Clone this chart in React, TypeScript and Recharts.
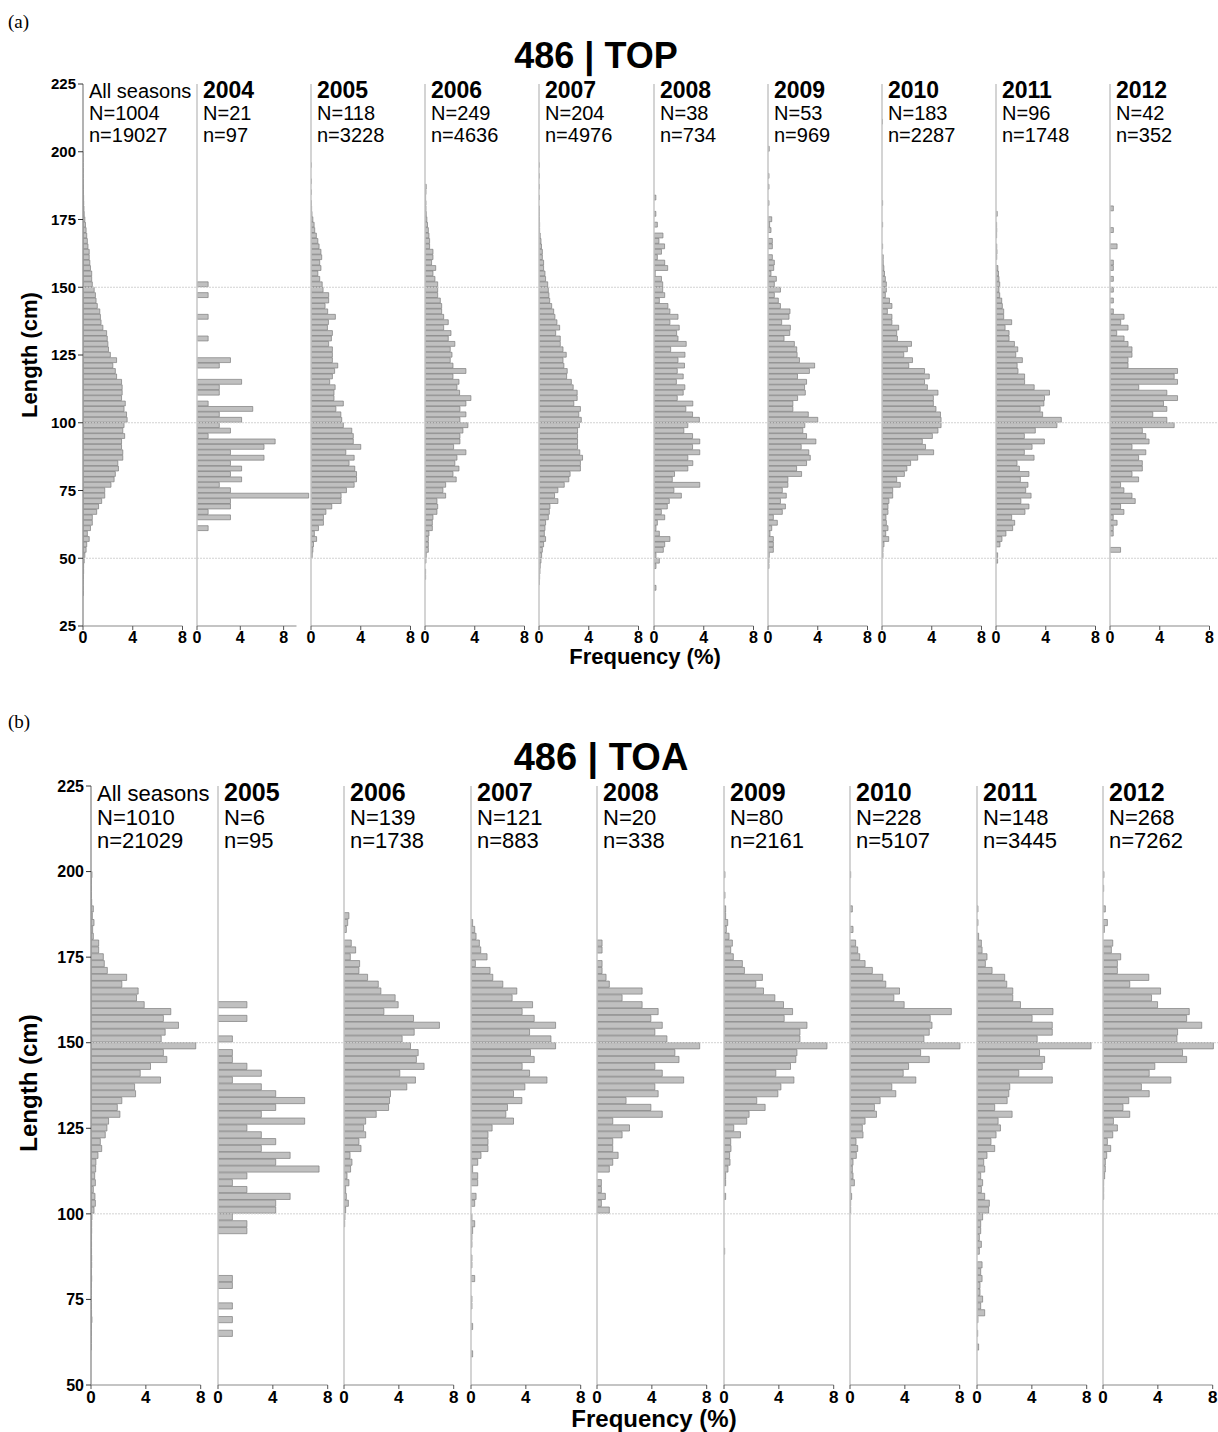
import React from "react";
import { BarChart, Bar, XAxis, YAxis, ReferenceLine } from "recharts";

// ---------- panel (a): 486 | TOP ----------
const A_LABELS = ["All seasons", "2004", "2005", "2006", "2007", "2008", "2009", "2010", "2011", "2012"];
const A_BIG_N = [1004, 21, 118, 249, 204, 38, 53, 183, 96, 42];
const A_SMALL_N = [19027, 97, 3228, 4636, 4976, 734, 969, 2287, 1748, 352];
// upper edge (cm) of the first 2-cm bin in each frequency list below
const A_TOPS = [200, 152, 196, 188, 196, 184, 202, 212, 178, 180];
// value reached by the drawn x-axis line (2004 is on a wider scale)
const A_AXIS_END = [8, 9.19, 8, 8, 8, 8, 8, 8, 8, 8];

const aAll = [0.01, 0.01, 0.01, 0.02, 0.02, 0.02, 0.03, 0.04, 0.05, 0.06, 0.08, 0.1, 0.15,
  0.2, 0.25, 0.3, 0.35, 0.4, 0.5, 0.5, 0.55, 0.6, 0.7, 0.7, 0.75,
  0.9, 1.0, 1.05, 1.15, 1.35, 1.4, 1.45, 1.6, 1.9, 1.95, 2.0, 2.05, 2.2,
  2.7, 2.4, 2.6, 2.7, 3.1, 3.15, 3.15, 3.1, 3.4, 3.3, 3.5, 3.55,
  3.3, 3.2, 3.35, 3.1, 3.1, 3.2, 3.2, 2.8, 2.85, 2.6, 2.5, 2.25,
  1.75, 1.75, 1.5, 1.25, 1.1, 0.75, 0.75, 0.6, 0.35, 0.5, 0.3, 0.25,
  0.15, 0.1, 0.05, 0.05, 0.03, 0.02, 0.02, 0.02];
const a2004 = [1.03, 0, 1.03, 0, 0, 0, 1.03, 0, 0, 0, 1.03, 0, 0, 0,
  3.09, 2.06, 0, 0, 4.12, 2.06, 2.06, 0, 1.03, 5.15, 2.06, 4.12,
  2.06, 3.09, 1.03, 7.22, 6.19, 3.09, 6.19, 3.09, 4.12, 3.09, 4.12, 2.06,
  3.09, 10.31, 3.09, 3.09, 1.03, 3.09, 0, 1.03];
const a2005 = [0.02, 0, 0, 0.03, 0, 0.03, 0, 0.03, 0.05, 0.08, 0.15, 0.25,
  0.3, 0.43, 0.55, 0.65, 0.8, 0.86, 0.7, 0.8, 0.55, 0.7, 0.9,
  0.97, 1.42, 1.42, 1.13, 1.34, 1.96, 1.4, 1.32, 1.72, 1.64, 1.42, 1.72, 1.72,
  1.72, 2.15, 1.9, 1.72, 1.5, 1.94, 1.85, 1.85, 2.6, 2.0, 2.4, 2.47,
  2.6, 3.28, 3.4, 3.4, 4.0, 2.8, 3.47, 3.06, 3.52, 3.66, 3.66, 3.47,
  2.85, 2.42, 2.42, 1.67, 1.2, 1.0, 1.0, 0.6, 0.27, 0.45, 0.2, 0.15,
  0.1];
const a2006 = [0.1, 0.08, 0.05, 0.08, 0.08, 0.1, 0.15,
  0.2, 0.27, 0.32, 0.37, 0.37, 0.64, 0.64, 0.53, 0.86, 0.64, 0.8, 1.02,
  1.02, 1.02, 1.23, 1.34, 1.34, 1.5, 1.87, 1.5, 2.09, 1.87, 2.4, 2.03, 2.17,
  2.03, 2.25, 3.29, 2.25, 2.73, 2.57, 2.78, 3.69, 3.29, 2.81, 3.29, 2.81,
  3.45, 3.05, 2.81, 2.81, 2.3, 3.29, 2.57, 2.4, 2.73, 2.25, 2.51, 1.66,
  1.44, 1.66, 0.96, 1.02, 0.96, 0.64, 0.59, 0.59, 0.32, 0.27, 0.27, 0.27,
  0.1, 0.08, 0, 0.05, 0.05];
const a2007 = [0.02, 0, 0.02, 0, 0.02, 0, 0.02, 0, 0.03, 0.03, 0.04, 0.05,
  0.05, 0.1, 0.16, 0.2, 0.27, 0.27, 0.37, 0.37, 0.48, 0.53, 0.7,
  0.75, 0.8, 0.86, 1.02, 1.18, 1.28, 1.44, 1.66, 1.34, 1.71, 1.71, 1.93, 2.19,
  1.93, 2.0, 2.27, 2.22, 2.6, 2.75, 3.07, 3.07, 2.8, 3.33, 3.2, 3.4,
  3.25, 3.1, 3.1, 3.1, 3.1, 3.28, 3.5, 3.33, 3.33, 2.5, 2.4, 2.03,
  1.52, 1.25, 1.52, 0.88, 0.83, 0.75, 0.53, 0.48, 0.43, 0.53, 0.37, 0.27,
  0.21, 0.16, 0.1, 0.08, 0.05, 0.03];
const a2008 = [0.15, 0, 0, 0.15, 0, 0.27,
  0, 0.72, 0.4, 0.85, 0.6, 0.27, 0.86, 1.1, 0.1, 0.6, 0.7,
  0.7, 0.86, 0.43, 1.12, 1.28, 1.93, 1.28, 2.03, 1.82, 1.93, 2.59, 1.34, 2.49,
  1.93, 2.45, 1.87, 2.35, 1.8, 2.48, 2.35, 1.87, 3.12, 2.56, 3.1, 3.65,
  2.72, 2.4, 3.1, 3.68, 3.1, 3.68, 2.72, 3.12, 2.72, 1.65, 1.47, 3.68,
  1.6, 2.2, 1.23, 1.07, 0.59, 0.86, 0.27, 0.16, 0.43, 1.28, 0.86, 0.75,
  0.16, 0.43, 0.16, 0, 0, 0, 0.16];
const a2009 = [0.1, 0, 0, 0, 0, 0.08, 0, 0.08, 0, 0, 0.08, 0, 0, 0.3,
  0.13, 0.24, 0, 0.35, 0.35, 0, 0.35, 0.51, 0.46, 0.24, 0.67, 0.51,
  1.0, 0.51, 0.83, 1.0, 1.77, 1.69, 1.1, 1.8, 1.75, 1.29, 2.12, 2.31, 2.34,
  2.53, 3.75, 3.33, 2.37, 3.1, 2.94, 3.0, 2.38, 2.0, 2.0, 3.24, 4.0,
  2.96, 2.8, 3.1, 3.85, 2.67, 3.28, 3.4, 3.1, 2.3, 2.7, 1.6, 1.6,
  1.15, 1.47, 1.0, 1.4, 1.15, 0.43, 0.75, 0.3, 0.16, 0.43, 0.43, 0.43,
  0.1, 0.08, 0.08];
const a2010 = [0.04, 0, 0, 0, 0, 0, 0, 0, 0, 0, 0, 0, 0, 0, 0, 0.05, 0, 0, 0,
  0.05, 0, 0, 0, 0.05, 0, 0.1, 0.1, 0.15, 0.2, 0.27, 0.35,
  0.35, 0.27, 0.6, 0.8, 0.43, 0.8, 0.8, 1.34, 1.18, 1.24, 2.37, 2.04, 1.75,
  2.45, 2.15, 3.42, 3.8, 3.42, 3.65, 4.5, 4.13, 4.13, 4.34, 4.7, 4.75,
  4.75, 4.5, 4.05, 3.24, 3.5, 4.15, 2.87, 2.3, 2.0, 1.8, 1.18, 1.47,
  0.86, 0.86, 0.56, 0.48, 0.48, 0.32, 0.35, 0.48, 0.3, 0.54, 0.16, 0.08,
  0.08];
const a2011 = [0.1, 0, 0.05,
  0.06, 0.05, 0, 0.06, 0.08, 0.06, 0, 0.15, 0.2, 0.24, 0.3,
  0.24, 0.3, 0.46, 0.51, 0.62, 0.62, 1.26, 0.73, 1.05, 1.05, 1.48, 1.75, 1.59,
  2.12, 1.7, 1.77, 2.3, 2.3, 3.07, 4.3, 3.9, 3.85, 3.55, 3.75, 5.25,
  4.9, 3.16, 2.28, 3.89, 2.9, 2.28, 3.06, 1.69, 1.88, 2.65, 1.96, 2.57,
  2.39, 2.82, 2.0, 2.65, 2.33, 1.26, 1.5, 1.34, 0.8, 0.48, 0.32, 0,
  0.13, 0.13];
const a2012 = [0.27, 0, 0, 0, 0.27, 0, 0, 0.57, 0, 0, 0.27, 0.27, 0, 0.27, 0,
  0.27, 0, 0.27, 0, 0.27, 1.13, 0.86, 1.45, 0.54, 1.13, 1.45, 1.77, 1.77,
  1.45, 1.45, 5.43, 5.16, 5.43, 2.31, 4.57, 5.43, 4.3, 4.57, 3.44, 4.57,
  5.16, 2.6, 2.88, 3.14, 1.77, 2.88, 2.3, 2.6, 2.6, 1.77, 2.3, 0.85,
  1.12, 1.77, 2.03, 0.85, 1.12, 0.26, 0.57, 0.26, 0.26, 0, 0, 0.85];

// ---------- panel (b): 486 | TOA ----------
const B_LABELS = ["All seasons", "2005", "2006", "2007", "2008", "2009", "2010", "2011", "2012"];
const B_BIG_N = [1010, 6, 139, 121, 20, 80, 228, 148, 268];
const B_SMALL_N = [21029, 95, 1738, 883, 338, 2161, 5107, 3445, 7262];
const B_TOPS = [200, 162, 188, 186, 180, 200, 200, 190, 200];
const B_AXIS_END = [8, 8, 8, 8, 8, 8, 8, 8, 8];

const bAll = [0.07, 0.03, 0.03, 0.03, 0.05, 0.17, 0.1, 0.22, 0.12, 0.17, 0.56, 0.56, 0.9,
  0.97, 1.19, 2.6, 2.25, 3.44, 3.32, 3.88, 5.82, 5.28, 6.38, 5.41, 5.12,
  7.64, 5.28, 5.53, 4.34, 3.59, 5.07, 3.18, 3.25, 2.25, 1.92, 2.11, 1.28, 1.16,
  1.04, 0.68, 0.78, 0.51, 0.36, 0.34, 0.27, 0.32, 0.17, 0.29, 0.32, 0.22,
  0.07, 0.05, 0.05, 0.04, 0.04, 0.04, 0.05, 0.05, 0.03, 0.05, 0.03, 0.03,
  0.03, 0.03, 0.04, 0.07, 0.03, 0.03, 0.02, 0.02];
const b2005 = [2.11, 0, 2.11, 0, 0, 1.05, 0, 1.05, 1.05, 2.11, 3.16, 1.05, 3.16, 4.21, 6.32, 4.21, 3.16, 6.32, 2.11,
  3.16, 4.21, 3.16, 5.26, 4.21, 7.37, 2.11, 1.05, 2.11, 5.26, 4.21, 4.21,
  1.05, 2.11, 2.11, 0, 0, 0, 0, 0, 0, 1.05, 1.05, 0,
  0, 1.05, 0, 1.05, 0, 1.05];
const b2006 = [0.36, 0.27, 0.17, 0, 0.53, 0.85, 0.46,
  1.14, 1.09, 1.72, 2.5, 2.69, 3.73, 3.95, 2.91, 5.07, 6.96, 5.12, 4.24,
  4.85, 5.41, 5.28, 5.84, 4.07, 5.21, 4.58, 3.39, 3.32, 3.25, 2.35, 1.58, 1.43,
  1.58, 1.09, 1.24, 0.44, 0.58, 0.48, 0.22, 0.36, 0.12, 0.17, 0.32, 0.12,
  0.07, 0.05];
const b2007 = [0.12, 0.27, 0.37, 0.61, 0.71, 1.17,
  0.32, 1.39, 1.59, 2.32, 3.34, 3.0, 4.49, 3.73, 4.61, 6.17, 4.27, 5.83,
  6.17, 4.34, 4.61, 3.73, 4.27, 5.54, 3.93, 3.1, 3.71, 2.66, 2.54, 3.1, 1.54,
  1.24, 1.24, 1.24, 0.73, 0.49, 0.12, 0.49, 0.49, 0, 0.37, 0.27, 0,
  0.07, 0.27, 0.12, 0.07, 0.07, 0, 0.07, 0.07, 0, 0.27, 0, 0,
  0.07, 0.07, 0, 0, 0.12, 0, 0, 0, 0.12];
const b2008 = [0.37, 0.37, 0, 0.37,
  0.37, 0.66, 0.9, 3.29, 1.83, 3.29, 4.46, 3.93, 4.76, 4.22, 5.1,
  7.49, 5.68, 5.98, 4.22, 4.76, 6.32, 4.22, 4.46, 2.12, 3.93, 4.76, 1.15, 2.37,
  1.83, 1.15, 1.15, 1.54, 1.15, 0.9, 0, 0.32, 0.32, 0.61, 0.32, 0.9];
const b2009 = [0.07, 0, 0, 0.07, 0, 0.12, 0.12, 0.27, 0.17, 0.37, 0.61, 0.49, 0.68,
  1.34, 1.49, 2.8, 2.32, 2.88, 3.71, 4.34, 5.0, 4.39, 6.05, 5.54, 5.54,
  7.51, 5.32, 5.24, 4.85, 3.78, 5.1, 4.15, 3.93, 2.39, 3.0, 1.83, 1.66, 0.71,
  1.2, 0.49, 0.51, 0.41, 0.44, 0.29, 0.12, 0.12, 0, 0.12, 0, 0,
  0, 0, 0, 0, 0, 0.05];
const b2010 = [0.05, 0, 0, 0, 0, 0.17, 0, 0, 0.22, 0, 0.41, 0.56, 0.71,
  1.1, 1.63, 2.39, 2.61, 3.61, 3.2, 3.95, 7.39, 5.85, 5.98, 5.78, 5.39,
  8.02, 5.15, 5.78, 4.27, 3.88, 4.8, 3.05, 3.34, 2.2, 1.78, 1.93, 1.1, 0.9,
  0.95, 0.44, 0.56, 0.46, 0.22, 0.17, 0.22, 0.32, 0.05, 0.12, 0.05, 0.05];
const b2011 = [0.07, 0, 0.07, 0, 0.12, 0.32, 0.37, 0.73,
  0.61, 1.1, 2.02, 2.17, 2.61, 2.61, 3.17, 5.54, 4.02, 5.49, 5.49, 4.39,
  8.32, 4.56, 4.93, 4.76, 3.05, 5.49, 2.39, 2.32, 2.2, 1.29, 2.56, 1.54, 1.71,
  1.39, 1.02, 1.29, 0.73, 0.49, 0.56, 0.27, 0.41, 0.32, 0.56, 0.9, 0.85,
  0.41, 0.27, 0.27, 0.17, 0.32, 0.17, 0, 0.37, 0.27, 0.37, 0.22, 0.22,
  0.41, 0.27, 0.56, 0.07, 0, 0.05, 0, 0.12];
const b2012 = [0.07, 0, 0.05, 0, 0, 0.17, 0, 0.32, 0.1, 0, 0.71, 0.61, 1.29,
  1.05, 1.05, 3.34, 1.95, 4.2, 3.54, 3.98, 6.29, 6.1, 7.2, 5.44, 5.39,
  8.05, 5.8, 6.1, 3.78, 3.37, 4.95, 2.8, 3.37, 1.88, 1.46, 1.95, 0.76, 1.05,
  0.71, 0.32, 0.56, 0.27, 0.17, 0.17, 0.12, 0.05, 0.05, 0.05];

const FONT = "'Liberation Sans', Arial, Helvetica, sans-serif";
const PAD_TOP = 12;
const AXIS_H = 30;
const Y_AXIS_W = 60;
const SIDE = 14; // room either side of a subplot so its tick labels are not cut

type Panel = {
  title: string;
  labels: string[];
  bigN: number[];
  smallN: number[];
  tops: number[];
  freqs: number[][];
  axisEnd: number[];
  x0: number;
  step: number;
  axisPx: number;
  top: number;
  bottom: number;
  lo: number;
  hi: number;
  yTicks: number[];
  grid: number[];
  yTickFs: number;
  xTickFs: number;
  labelFs: number;
  yearFs: number;
  lineGap: number;
  titleFs: number;
  axisTitleFs: number;
};

const PANEL_A: Panel = {
  title: "486 | TOP",
  labels: A_LABELS,
  bigN: A_BIG_N,
  smallN: A_SMALL_N,
  tops: A_TOPS,
  freqs: [aAll, a2004, a2005, a2006, a2007, a2008, a2009, a2010, a2011, a2012],
  axisEnd: A_AXIS_END,
  x0: 82.7,
  step: 114.18,
  axisPx: 99.5,
  top: 84,
  bottom: 626,
  lo: 25,
  hi: 225,
  yTicks: [25, 50, 75, 100, 125, 150, 175, 200, 225],
  grid: [50, 100, 150],
  yTickFs: 15,
  xTickFs: 16,
  labelFs: 20,
  yearFs: 23,
  lineGap: 22,
  titleFs: 36,
  axisTitleFs: 22,
};

const PANEL_B: Panel = {
  title: "486 | TOA",
  labels: B_LABELS,
  bigN: B_BIG_N,
  smallN: B_SMALL_N,
  tops: B_TOPS,
  freqs: [bAll, b2005, b2006, b2007, b2008, b2009, b2010, b2011, b2012],
  axisEnd: B_AXIS_END,
  x0: 91.4,
  step: 126.49,
  axisPx: 109.7,
  top: 786,
  bottom: 1385,
  lo: 50,
  hi: 225,
  yTicks: [50, 75, 100, 125, 150, 175, 200, 225],
  grid: [100, 150],
  yTickFs: 16,
  xTickFs: 17,
  labelFs: 22,
  yearFs: 25,
  lineGap: 23.5,
  titleFs: 38,
  axisTitleFs: 24,
};

const toBins = (top: number, freq: number[]) =>
  freq
    .map((f, i) => ({ len: top - 2 * i - 1, f }))
    .filter((d) => d.f > 0);

const axisLeft = (p: Panel, i: number) => Math.round(p.x0 + i * p.step);

function Subplot({ p, i }: { p: Panel; i: number }) {
  const left = axisLeft(p, i);
  const right = i === p.labels.length - 1 ? 1218 : axisLeft(p, i + 1);
  const plotW = right - left;
  const plotH = p.bottom - p.top;
  const yw = i === 0 ? Y_AXIS_W : 0;
  const dmax = (p.axisEnd[i] * plotW) / p.axisPx;
  const barSize = (2 * plotH) / (p.hi - p.lo);
  const data = toBins(p.tops[i], p.freqs[i]);

  return (
    <div style={{ position: "absolute", left: left - yw - SIDE, top: p.top - PAD_TOP }}>
      <BarChart
        layout="vertical"
        width={plotW + yw + 2 * SIDE}
        height={plotH + PAD_TOP + AXIS_H}
        data={data}
        margin={{ top: PAD_TOP, right: SIDE, bottom: 0, left: SIDE }}
      >
        <XAxis
          type="number"
          domain={[0, dmax]}
          ticks={[0, 4, 8]}
          interval={0}
          allowDataOverflow
          axisLine={false}
          tickLine={{ stroke: "#555" }}
          tickSize={4}
          height={AXIS_H}
          tick={{ fontSize: p.xTickFs, fontWeight: 700, fill: "#000" }}
        />
        <YAxis
          type="number"
          dataKey="len"
          domain={[p.lo, p.hi]}
          ticks={p.yTicks}
          interval={0}
          reversed
          allowDataOverflow
          hide={i > 0}
          width={yw}
          axisLine={{ stroke: "#9a9a9a", strokeWidth: 1.5 }}
          tickLine={{ stroke: "#333" }}
          tickSize={5}
          tick={{ fontSize: p.yTickFs, fontWeight: 700, fill: "#000" }}
        />
        {p.grid.map((g) => (
          <ReferenceLine key={g} y={g} stroke="#d2d2d2" strokeDasharray="2 1" />
        ))}
        {i > 0 && <ReferenceLine x={0} stroke="#c6c6c6" strokeWidth={1.5} />}
        <ReferenceLine
          segment={[
            { x: 0, y: p.lo },
            { x: p.axisEnd[i], y: p.lo },
          ]}
          stroke="#8a8a8a"
          strokeWidth={1.2}
        />
        <Bar
          dataKey="f"
          barSize={barSize}
          fill="#c0c0c0"
          stroke="#7c7c7c"
          strokeWidth={0.7}
          isAnimationActive={false}
        />
      </BarChart>
    </div>
  );
}

function Labels({ p, firstLine, titleY, titleX, freqX, freqY, lenY }: {
  p: Panel; firstLine: number; titleY: number; titleX: number; freqX: number; freqY: number; lenY: number;
}) {
  return (
    <g>
      <text x={titleX} y={titleY} textAnchor="middle" fontSize={p.titleFs} fontWeight={700}>
        {p.title}
      </text>
      {p.labels.map((lab, i) => {
        const x = axisLeft(p, i) + 6;
        return (
          <g key={lab}>
            <text x={x} y={firstLine} fontSize={i === 0 ? p.labelFs : p.yearFs} fontWeight={i === 0 ? 400 : 700}>
              {lab}
            </text>
            <text x={x} y={firstLine + p.lineGap} fontSize={p.labelFs}>N={p.bigN[i]}</text>
            <text x={x} y={firstLine + 2 * p.lineGap} fontSize={p.labelFs}>n={p.smallN[i]}</text>
          </g>
        );
      })}
      <text x={freqX} y={freqY} textAnchor="middle" fontSize={p.axisTitleFs} fontWeight={700}>
        Frequency (%)
      </text>
      <text
        x={0}
        y={0}
        transform={`translate(37 ${lenY}) rotate(-90)`}
        textAnchor="middle"
        fontSize={p.axisTitleFs}
        fontWeight={700}
      >
        Length (cm)
      </text>
    </g>
  );
}

export default function App() {
  return (
    <div
      style={{
        position: "absolute",
        left: 0,
        top: 0,
        width: 1218,
        height: 1432,
        overflow: "hidden",
        background: "#fff",
        fontFamily: FONT,
      }}
    >
      {PANEL_A.labels.map((_, i) => (
        <Subplot key={"a" + i} p={PANEL_A} i={i} />
      ))}
      {PANEL_B.labels.map((_, i) => (
        <Subplot key={"b" + i} p={PANEL_B} i={i} />
      ))}
      <svg
        width={1218}
        height={1432}
        style={{ position: "absolute", left: 0, top: 0, pointerEvents: "none", fontFamily: FONT }}
      >
        <text x={8} y={28} fontSize={19} fontFamily="'Liberation Serif', 'Times New Roman', serif">(a)</text>
        <text x={8} y={728} fontSize={19} fontFamily="'Liberation Serif', 'Times New Roman', serif">(b)</text>
        <Labels p={PANEL_A} firstLine={98} titleY={68} titleX={596} freqX={645} freqY={664} lenY={355} />
        <Labels p={PANEL_B} firstLine={801} titleY={770} titleX={601} freqX={654} freqY={1427} lenY={1083} />
      </svg>
    </div>
  );
}
